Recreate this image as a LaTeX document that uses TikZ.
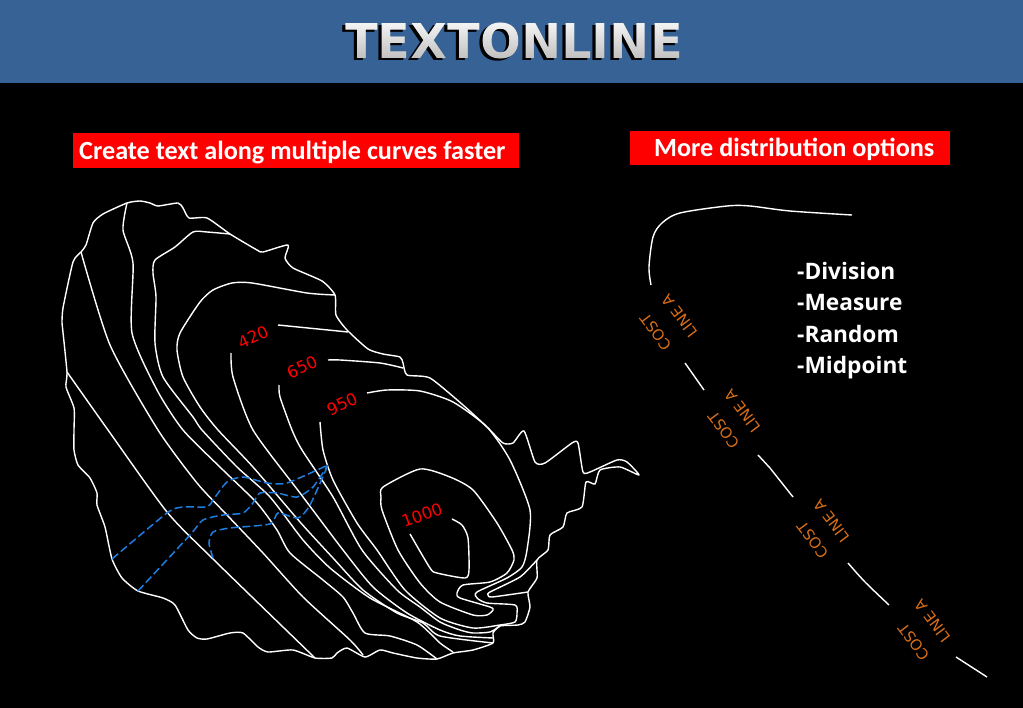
\documentclass[tikz,border=0pt]{standalone}
\usepackage{fontspec}
\setmainfont{Carlito}
\newfontfamily\labelfont{DejaVu Sans}
\newfontfamily\listfont{Open Sans}
\usetikzlibrary{fadings}

\definecolor{barblue}{RGB}{54,98,150}
\definecolor{riverblue}{RGB}{30,125,225}
\definecolor{lineorange}{RGB}{215,110,25}

\tikzset{contour/.style={draw=white,line width=1.4pt,line join=round}}
\tikzset{river/.style={draw=riverblue,line width=1.5pt,dash pattern=on 8pt off 3.5pt}}
\tikzset{height/.style={text=red,font=\labelfont\fontsize{16.5}{17}\selectfont,inner sep=0pt}}
\tikzset{costlabel/.style={text=lineorange,font=\labelfont\fontsize{15}{16}\selectfont,inner sep=0pt,rotate=127}}
\tikzset{banner/.style={fill=red,text=white,font=\bfseries\fontsize{26.2}{27}\selectfont,inner sep=0pt}}

\begin{tikzfadingfrompicture}[name=titlefade]
\node[text=transparent!0,font=\labelfont\bfseries\fontsize{48}{50}\selectfont] (titlemask) {TEXTONLINE};
\end{tikzfadingfrompicture}

\begin{document}
\begin{tikzpicture}[x=1pt,y=-1pt]
\useasboundingbox (0,0) rectangle (1023,708);
\fill[black] (0,0) rectangle (1023,708);
\fill[barblue] (0,0) rectangle (1023,83);

% title
\node[text=black,font=\labelfont\bfseries\fontsize{48}{50}\selectfont] (shadow) at (511,43) {TEXTONLINE};
\shade[path fading=titlefade,fit fading=false,fading transform={shift={(514pt,-41pt)}},top color=white,bottom color=black!30]
  (330,15) rectangle (700,68);

% banners
\fill[red] (73,133) rectangle (519,168);
\node[banner,anchor=west] (curvesText) at (79,153) {Create text along multiple curves faster};
\fill[red] (630,131) rectangle (950,165);
\node[banner,anchor=west] (optionsText) at (654,149) {More distribution options};

% outline of the map
\draw[contour] plot[smooth,tension=0.35] coordinates {(62,323) (63,308) (73,262) (81,252) (86,245) (93,223) (103,214) (127,203) (140,201) (150,203) (158,206) (178,203) (183,208) (189,218) (207,218) (230,234) (257,250) (263,252) (288,245) (285,258) (293,268) (322,281) (335,295) (336,315) (347,330) (368,349) (383,354) (400,357) (403,363) (407,375) (430,378) (463,405) (487,427) (503,443) (513,443) (524,431) (535,462) (545,463) (572,443) (578,443) (583,472) (590,472) (617,460) (627,462) (639,475) (620,467) (600,470) (595,484) (586,482) (582,507) (567,513) (563,527) (550,535) (548,550) (537,560) (537,578) (528,592) (530,607) (525,622) (518,625) (500,626) (493,633) (493,643) (473,650) (453,653) (437,659) (417,658) (393,653) (380,650) (365,657) (347,648) (337,653) (332,658) (315,658) (293,650) (268,652) (258,647) (243,633) (230,633) (207,639) (197,638) (188,630) (175,605) (163,598) (138,591) (122,578) (112,559) (105,527) (97,505) (97,493) (90,478) (78,465) (74,450) (74,430) (74,408) (66,387) (67,372) (62,323)};
\draw[contour] plot[smooth,tension=0.35] coordinates {(537,560) (520,577) (490,592) (488,595) (492,597) (528,592)};

% contour lines
\draw[contour] plot[smooth,tension=0.4] coordinates {(67,372) (108,430) (167,512) (213,559) (315,658)};
\draw[contour] plot[smooth,tension=0.4] coordinates {(81,252) (110,345) (158,430) (197,483) (227,515) (263,553) (303,597) (350,640) (363,655)};
\draw[contour] plot[smooth,tension=0.4] coordinates {(127,203) (123,230) (133,263) (132,333) (157,390) (183,430) (223,470) (257,503) (277,530) (290,553) (323,580) (343,597) (353,613) (365,633) (390,636) (417,645) (437,659)};
\draw[contour] plot[smooth,tension=0.4] coordinates {(230,234) (207,232) (193,232) (175,247) (155,260) (153,273) (156,297) (155,343) (163,377) (193,417) (202,430) (237,467) (270,497) (303,540) (330,568) (370,598) (417,622) (440,643) (453,652)};
\draw[contour] plot[smooth,tension=0.4] coordinates {(335,295) (307,293) (252,283) (232,283) (213,290) (200,302) (180,333) (177,350) (183,377) (200,407) (218,430) (253,467) (300,522) (333,558) (363,590) (397,613) (423,623) (440,636) (493,643)};
\draw[contour] plot[smooth,tension=0.4] coordinates {(231,353) (233,377) (253,430) (300,493) (343,550) (373,587) (407,613) (440,630) (460,636) (493,638)};
\draw[contour] (278,325) -- (348,332);
\draw[contour] plot[smooth,tension=0.4] coordinates {(279,385) (280,397) (292,430) (302,450) (333,497) (362,550) (397,590) (420,607) (440,622) (460,630) (473,633) (490,632) (500,626)};
\draw[contour] plot[smooth,tension=0.4] coordinates {(328,360) (340,360) (380,363) (403,368)};
\draw[contour] plot[smooth,tension=0.4] coordinates {(320,422) (323,450) (333,480) (357,523) (377,550) (405,590) (440,618) (473,628) (500,625) (515,622) (517,613) (515,605) (487,603) (477,598) (477,592) (507,578) (522,567) (527,550) (530,510) (510,460) (487,427) (453,402) (420,391) (387,390) (367,393)};
\draw[contour] plot[smooth cycle,tension=0.4] coordinates {(420,469) (383,487) (381,497) (382,510) (398,550) (420,583) (440,602) (473,615) (487,615) (493,610) (490,607) (460,598) (457,593) (463,585) (490,582) (507,573) (514,560) (512,550) (497,523) (473,490) (450,477)};
\draw[contour] plot[smooth,tension=0.4] coordinates {(452,519) (462,525) (468,538) (469,570) (465,578) (437,573) (430,568) (410,534)};

% dashed lines
\draw[river] plot[smooth,tension=0.4] coordinates {(112,559) (167,513) (183,507) (207,507) (213,500) (227,482) (243,477) (267,483) (287,483) (328,465)};
\draw[river] plot[smooth,tension=0.4] coordinates {(138,591) (190,535) (203,520) (223,515) (243,513) (253,503) (260,493) (277,493) (297,497) (313,487) (328,465)};
\draw[river] plot[smooth,tension=0.4] coordinates {(213,558) (209,543) (213,532) (230,528) (270,524) (278,513) (298,518) (310,505) (328,465)};

% heights
\node[height,rotate=25] (h420) at (253,337) {420};
\node[height,rotate=25] (h650) at (302,367) {650};
\node[height,rotate=25] (h950) at (342,404) {950};
\node[height,rotate=20] (h1000) at (422,515) {1000};

% curve on the right
\draw[contour] plot[smooth,tension=0.5] coordinates {(651,285) (649,267) (653,237) (662,223) (680,213) (727,206) (750,206) (790,211) (852,215)};
\draw[contour] (685,363) -- (704,390);
\draw[contour] (758,455) -- (770,468) -- (793,497);
\draw[contour] plot[smooth,tension=0.5] coordinates {(848,563) (865,582) (889,605)};
\draw[contour] (956,657) -- (987,677);

\node[costlabel] (cost1) at (656,332) {COST};
\node[costlabel] (linea1) at (680,316) {LINE A};
\node[costlabel] (cost2) at (724,430) {COST};
\node[costlabel] (linea2) at (743,411) {LINE A};
\node[costlabel] (cost3) at (813,540) {COST};
\node[costlabel] (linea3) at (832,521) {LINE A};
\node[costlabel] (cost4) at (914,642) {COST};
\node[costlabel] (linea4) at (933,621) {LINE A};

% options
\node[anchor=north west,align=left,text=white,inner sep=0pt,font=\listfont\bfseries\fontsize{22.7}{31.5}\selectfont] (optionList) at (797,262) {-Division\\-Measure\\-Random\\-Midpoint};

\end{tikzpicture}
\end{document}
